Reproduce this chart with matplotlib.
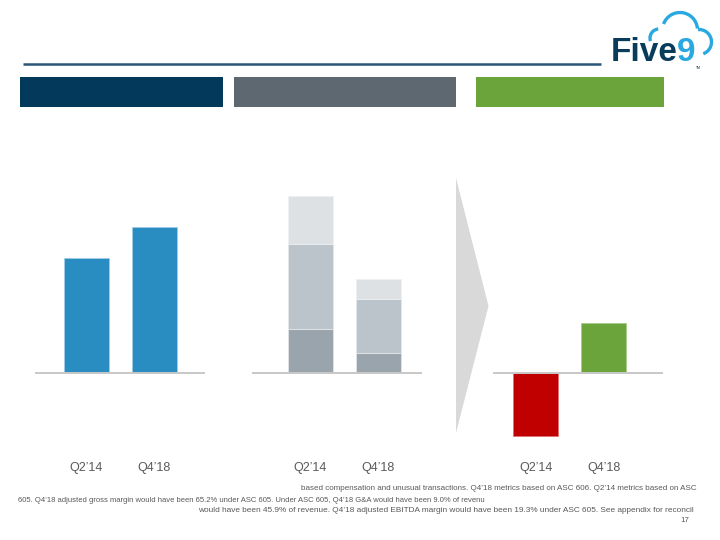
import matplotlib
matplotlib.use("Agg")
import matplotlib.pyplot as plt
from matplotlib.patches import Polygon, Rectangle, Arc
from matplotlib.lines import Line2D

plt.rcParams['font.family'] = ['Liberation Sans', 'DejaVu Sans']

# ---------------- data (percent of revenue) ----------------
periods = ["Q2\u201914", "Q4\u201918"]
gross_margin = [45.2, 57.4]
opex_bottom = [17.5, 8.1]
opex_middle = [33.2, 21.1]
opex_top = [18.9, 7.8]
ebitda_margin = [-24.8, 19.6]

footnote_lines = [
    "based compensation and unusual transactions. Q4\u201918 metrics based on ASC 606. Q2\u201914 metrics based on ASC",
    "605. Q4\u201918 adjusted gross margin would have been 65.2% under ASC 605. Under ASC 605, Q4\u201918 G&A would have been 9.0% of revenu",
    "would have been 45.9% of revenue. Q4\u201918 adjusted EBITDA margin would have been 19.3% under ASC 605. See appendix for reconcil",
]
page_number = "17"

W, H = 720, 540
fig = plt.figure(figsize=(7.2, 5.4), dpi=100)
fig.patch.set_facecolor("white")


def fx(px):
    return px / W


def fy(py):
    return 1 - py / H


def add_rect(x0, y0, x1, y1, color, **kw):
    fig.add_artist(Rectangle((fx(x0), fy(y1)), fx(x1) - fx(x0), fy(y0) - fy(y1),
                             transform=fig.transFigure, facecolor=color,
                             edgecolor="none", **kw))


# header rule
fig.add_artist(Line2D([fx(23), fx(601)], [fy(64.3), fy(64.3)], transform=fig.transFigure,
                      color="#2a5777", lw=1.8, solid_capstyle="butt"))

# header boxes
add_rect(19.5, 77, 222.5, 107, "#033a5c")
add_rect(233.5, 77, 456, 107, "#5d6870")
add_rect(476, 77, 663.5, 107, "#6ba43a")

# logo
cloud_c = "#29a9e0"
navy = "#083c5a"
fig.text(fx(611), fy(61), "Five", transform=fig.transFigure, fontsize=24,
         fontweight="bold", color=navy, ha="left", va="baseline")
fig.text(fx(677), fy(61), "9", transform=fig.transFigure, fontsize=24,
         fontweight="bold", color=cloud_c, ha="left", va="baseline")
fig.text(fx(696), fy(69), "TM", transform=fig.transFigure, fontsize=2.5,
         color=navy, ha="left", va="baseline")
# cloud outline drawn in a pixel-space overlay axes (y measured upward = 80 - py)
lax = fig.add_axes([fx(630), fy(80), fx(720) - fx(630), fy(0) - fy(80)])
lax.set_xlim(630, 720)
lax.set_ylim(0, 80)
lax.axis("off")
lax.add_patch(Arc((659, 80 - 38), 18, 18, theta1=95, theta2=200, color=cloud_c, lw=2.4))
lax.add_patch(Arc((680, 80 - 30), 35, 35, theta1=5, theta2=160, color=cloud_c, lw=2.4))
lax.add_patch(Arc((699, 80 - 42), 25, 25, theta1=-70, theta2=95, color=cloud_c, lw=2.4))

# arrow (chevron)
fig.add_artist(Polygon([(fx(456), fy(178)), (fx(488.5), fy(306)), (fx(456), fy(433))],
                       closed=True, transform=fig.transFigure, facecolor="#d9d9d9",
                       edgecolor="none"))

# ---------------- axes ----------------
px_per_unit = 2.55
top_px, bot_px, zero_px = 170, 445, 373.2
ylo = -(bot_px - zero_px) / px_per_unit
yhi = (zero_px - top_px) / px_per_unit

panels = [
    (35, 205, 0.754),
    (252, 422, 0.856),
    (493, 663, 0.63),
]
axes = []
for x0, x1, off in panels:
    ax = fig.add_axes([fx(x0), fy(bot_px), fx(x1) - fx(x0), fy(top_px) - fy(bot_px)])
    ax.set_xlim(-off, -off + 2.5)
    ax.set_ylim(ylo, yhi)
    for s in ax.spines.values():
        s.set_visible(False)
    ax.set_yticks([])
    ax.set_xticks([0, 1])
    ax.set_xticklabels(periods, fontsize=9, color="#595959")
    ax.tick_params(axis="x", length=0, pad=12.5)
    ax.axhline(0, color="#c8c8c8", lw=1.4, zorder=3)
    ax.patch.set_alpha(0)
    axes.append(ax)

x = [0, 1]
bw = 0.66
ax1, ax2, ax3 = axes
ax1.bar(x, gross_margin, width=bw, color="#2a8dc2", edgecolor="#9fcde8", lw=0.6)

ax2.bar(x, opex_bottom, width=bw, color="#9aa4ac", edgecolor="#e6e9eb", lw=0.5)
b2 = [opex_bottom[i] for i in range(2)]
ax2.bar(x, opex_middle, width=bw, bottom=b2, color="#bcc4cb", edgecolor="#e6e9eb", lw=0.5)
b3 = [opex_bottom[i] + opex_middle[i] for i in range(2)]
ax2.bar(x, opex_top, width=bw, bottom=b3, color="#dde1e4", edgecolor="#eef0f2", lw=0.5)

ax3.bar(x, ebitda_margin, width=bw, color=["#c00000", "#6ba43a"],
        edgecolor=["#e07070", "#a8cc8a"], lw=0.6)

# ---------------- footnote ----------------
fc = "#595959"
fig.text(fx(697), fy(489), footnote_lines[0], ha="right", va="center", fontsize=5.8, color=fc)
fig.text(fx(18), fy(500), footnote_lines[1], ha="left", va="center", fontsize=5.5, color=fc)
fig.text(fx(694), fy(510), footnote_lines[2], ha="right", va="center", fontsize=5.97, color=fc)
fig.text(fx(689), fy(521), page_number, ha="right", va="center", fontsize=5.8, color=fc)

fig.savefig("out.png", dpi=100)
